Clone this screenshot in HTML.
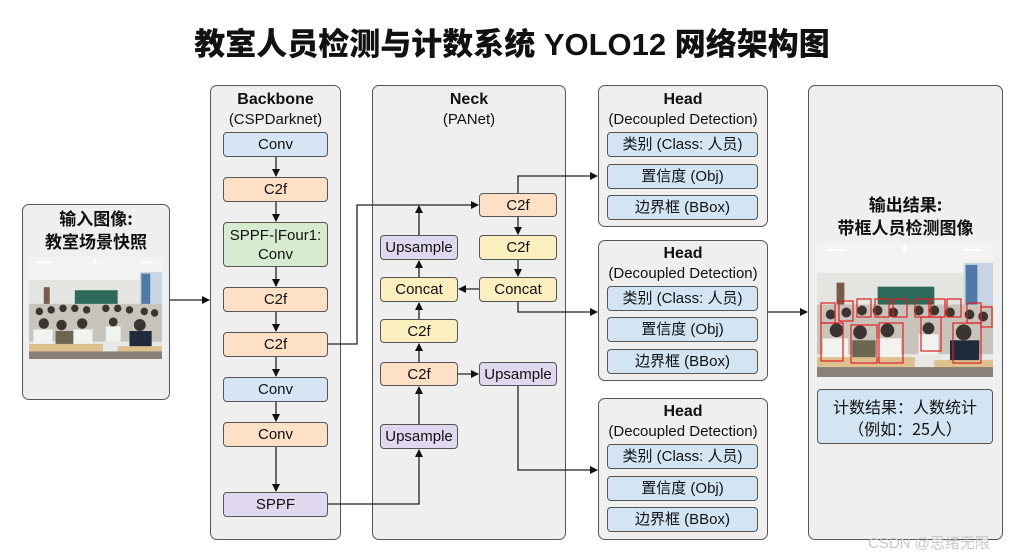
<!DOCTYPE html>
<html><head><meta charset="utf-8">
<style>
*{margin:0;padding:0;box-sizing:border-box}
body{width:1024px;height:559px;background:#fff;position:relative;overflow:hidden;font-family:"Liberation Sans","Noto Sans CJK SC",sans-serif;color:#111}
.a{position:absolute}
.panel{position:absolute;background:#efefef;border:1.5px solid #555;border-radius:7px}
.b{position:absolute;border:1.3px solid #555;border-radius:4px;display:flex;align-items:center;justify-content:center;font-size:15px;text-align:center;line-height:19px}
.blue{background:#d5e5f4}.or{background:#fde0c6}.gr{background:#d6ebcf}.pu{background:#e0d8ee}.ye{background:#fcefbf}
.hb{background:#d3e4f3;font-size:15px}
.t{position:absolute;text-align:center;font-size:15px;line-height:19px}
.bold{font-weight:bold;font-size:16px}
.cj{font-weight:bold;font-size:17px;font-family:"Noto Sans CJK SC",sans-serif;line-height:23px}
</style></head><body>
<div class="a" style="left:0;top:19px;width:1024px;text-align:center;font-size:31px;font-weight:900;font-family:'Liberation Sans','Noto Sans CJK SC',sans-serif">教室人员检测与计数系统 YOLO12 网络架构图</div>

<svg width="0" height="0" style="position:absolute">
<defs>
<symbol id="photo" viewBox="0 0 180 135" preserveAspectRatio="none">
<rect width="180" height="135" fill="#e8e8e6"/>
<rect width="180" height="30" fill="#f3f3f1"/>
<rect x="0" y="30" width="180" height="60" fill="#e4e4e0"/>
<rect x="62" y="44" width="58" height="22" fill="#2d6a5a"/>
<rect x="150" y="20" width="30" height="70" fill="#c8d6e4"/>
<rect x="152" y="22" width="12" height="66" fill="#4f79a8"/>
<rect x="20" y="40" width="8" height="28" fill="#7a5a4a"/>
<rect x="10" y="6" width="20" height="2" fill="#fff"/><rect x="88" y="2" width="3" height="8" fill="#fff"/><rect x="150" y="6" width="18" height="2" fill="#fff"/>
<rect x="0" y="62" width="180" height="50" fill="#c8c4bc"/>
<g fill="#3a3530">
<circle cx="14" cy="72" r="5"/><circle cx="30" cy="70" r="5"/><circle cx="46" cy="68" r="5"/><circle cx="62" cy="68" r="5"/><circle cx="78" cy="70" r="5"/><circle cx="104" cy="68" r="5"/><circle cx="120" cy="68" r="5"/><circle cx="136" cy="70" r="5"/><circle cx="156" cy="72" r="5"/><circle cx="170" cy="74" r="5"/>
<circle cx="20" cy="88" r="7"/><circle cx="44" cy="90" r="7"/><circle cx="72" cy="88" r="7"/><circle cx="114" cy="86" r="6"/><circle cx="150" cy="90" r="8"/>
</g>
<g fill="#f2f2f0"><rect x="6" y="96" width="26" height="22"/><rect x="60" y="96" width="26" height="22"/><rect x="104" y="92" width="20" height="20"/></g>
<g fill="#6b6650"><rect x="36" y="98" width="24" height="20"/></g>
<g fill="#1f2a3a"><rect x="136" y="98" width="30" height="24"/></g>
<rect x="0" y="115" width="100" height="10" fill="#dcc08e"/>
<rect x="120" y="118" width="60" height="10" fill="#dcc08e"/>
<rect x="0" y="125" width="180" height="10" fill="#8a8078"/>
</symbol>
</defs>
</svg>

<!-- input -->
<div class="panel" style="left:22px;top:204px;width:148px;height:196px"></div>
<div class="t cj" style="left:22px;top:206px;width:148px">输入图像:<br>教室场景快照</div>
<svg class="a" style="left:29px;top:257px" width="133" height="102"><use href="#photo" width="133" height="102"/></svg>

<!-- backbone -->
<div class="panel" style="left:210px;top:85px;width:131px;height:455px"></div>
<div class="t bold" style="left:210px;top:90px;width:131px">Backbone</div>
<div class="t" style="left:210px;top:110px;width:131px">(CSPDarknet)</div>
<div class="b blue" style="left:223px;top:132px;width:105px;height:25px">Conv</div>
<div class="b or" style="left:223px;top:177px;width:105px;height:25px">C2f</div>
<div class="b gr" style="left:223px;top:222px;width:105px;height:45px">SPPF-|Four1:<br>Conv</div>
<div class="b or" style="left:223px;top:287px;width:105px;height:25px">C2f</div>
<div class="b or" style="left:223px;top:332px;width:105px;height:25px">C2f</div>
<div class="b blue" style="left:223px;top:377px;width:105px;height:25px">Conv</div>
<div class="b or" style="left:223px;top:422px;width:105px;height:25px">Conv</div>
<div class="b pu" style="left:223px;top:492px;width:105px;height:25px">SPPF</div>

<!-- neck -->
<div class="panel" style="left:372px;top:85px;width:194px;height:455px"></div>
<div class="t bold" style="left:372px;top:90px;width:194px">Neck</div>
<div class="t" style="left:372px;top:110px;width:194px">(PANet)</div>
<div class="b pu" style="left:380px;top:235px;width:78px;height:25px">Upsample</div>
<div class="b ye" style="left:380px;top:277px;width:78px;height:25px">Concat</div>
<div class="b ye" style="left:380px;top:319px;width:78px;height:24px">C2f</div>
<div class="b or" style="left:380px;top:362px;width:78px;height:24px">C2f</div>
<div class="b pu" style="left:380px;top:424px;width:78px;height:25px">Upsample</div>
<div class="b or" style="left:479px;top:193px;width:78px;height:24px">C2f</div>
<div class="b ye" style="left:479px;top:235px;width:78px;height:25px">C2f</div>
<div class="b ye" style="left:479px;top:277px;width:78px;height:25px">Concat</div>
<div class="b pu" style="left:479px;top:362px;width:78px;height:24px">Upsample</div>

<!-- heads -->
<div class="panel" style="left:598px;top:85px;width:170px;height:142px"></div>
<div class="t bold" style="left:598px;top:90px;width:170px">Head</div>
<div class="t" style="left:598px;top:110px;width:170px">(Decoupled Detection)</div>
<div class="b hb" style="left:607px;top:132px;width:151px;height:25px">类别 (Class: 人员)</div>
<div class="b hb" style="left:607px;top:164px;width:151px;height:25px">置信度 (Obj)</div>
<div class="b hb" style="left:607px;top:195px;width:151px;height:25px">边界框 (BBox)</div>

<div class="panel" style="left:598px;top:240px;width:170px;height:141px"></div>
<div class="t bold" style="left:598px;top:244px;width:170px">Head</div>
<div class="t" style="left:598px;top:264px;width:170px">(Decoupled Detection)</div>
<div class="b hb" style="left:607px;top:286px;width:151px;height:25px">类别 (Class: 人员)</div>
<div class="b hb" style="left:607px;top:317px;width:151px;height:25px">置信度 (Obj)</div>
<div class="b hb" style="left:607px;top:349px;width:151px;height:25px">边界框 (BBox)</div>

<div class="panel" style="left:598px;top:398px;width:170px;height:142px"></div>
<div class="t bold" style="left:598px;top:402px;width:170px">Head</div>
<div class="t" style="left:598px;top:422px;width:170px">(Decoupled Detection)</div>
<div class="b hb" style="left:607px;top:444px;width:151px;height:25px">类别 (Class: 人员)</div>
<div class="b hb" style="left:607px;top:476px;width:151px;height:25px">置信度 (Obj)</div>
<div class="b hb" style="left:607px;top:507px;width:151px;height:25px">边界框 (BBox)</div>

<!-- output -->
<div class="panel" style="left:808px;top:85px;width:195px;height:455px"></div>
<div class="t cj" style="left:808px;top:192px;width:195px">输出结果:<br>带框人员检测图像</div>
<svg class="a" style="left:817px;top:243px" width="176" height="134"><use href="#photo" width="176" height="134"/>
<g fill="none" stroke="#e02020" stroke-width="1.2">
<rect x="4" y="60" width="14" height="20"/><rect x="22" y="58" width="14" height="20"/><rect x="40" y="56" width="14" height="18"/><rect x="58" y="56" width="14" height="18"/><rect x="76" y="56" width="14" height="18"/><rect x="98" y="56" width="14" height="18"/><rect x="114" y="56" width="14" height="18"/><rect x="130" y="56" width="14" height="18"/><rect x="150" y="60" width="14" height="20"/><rect x="164" y="64" width="11" height="20"/>
<rect x="4" y="80" width="22" height="38"/><rect x="34" y="82" width="26" height="38"/><rect x="62" y="80" width="24" height="40"/><rect x="104" y="74" width="20" height="34"/><rect x="136" y="80" width="28" height="40"/>
</g></svg>
<div class="b hb" style="left:817px;top:389px;width:176px;height:55px;font-family:'Noto Sans CJK SC',sans-serif;font-size:16px;line-height:22px">计数结果：人数统计<br>（例如：25人）</div>

<div class="a" style="left:868px;top:532px;font-size:15px;color:#c8c8c8">CSDN @思绪无限</div>

<svg class="a" style="left:0;top:0" width="1024" height="559">
<defs><marker id="ar" markerWidth="8" markerHeight="8" refX="7" refY="4" orient="auto" markerUnits="userSpaceOnUse"><path d="M0,0 L8,4 L0,8 z" fill="#111"/></marker></defs>
<g stroke="#222" stroke-width="1.3" fill="none" marker-end="url(#ar)">
<line x1="170" y1="300" x2="209" y2="300"/>
<line x1="276" y1="157" x2="276" y2="176"/>
<line x1="276" y1="202" x2="276" y2="221"/>
<line x1="276" y1="267" x2="276" y2="286"/>
<line x1="276" y1="312" x2="276" y2="331"/>
<line x1="276" y1="357" x2="276" y2="376"/>
<line x1="276" y1="402" x2="276" y2="421"/>
<line x1="276" y1="447" x2="276" y2="491"/>
<polyline points="328,344 357,344 357,205 478,205"/>
<line x1="419" y1="235" x2="419" y2="206"/>
<polyline points="328,504 419,504 419,450"/>
<line x1="419" y1="424" x2="419" y2="387"/>
<line x1="419" y1="362" x2="419" y2="344"/>
<line x1="419" y1="319" x2="419" y2="303"/>
<line x1="419" y1="277" x2="419" y2="261"/>
<line x1="479" y1="289" x2="459" y2="289"/>
<line x1="518" y1="217" x2="518" y2="234"/>
<line x1="518" y1="260" x2="518" y2="276"/>
<line x1="458" y1="374" x2="478" y2="374"/>
<polyline points="518,193 518,176 597,176"/>
<polyline points="518,302 518,312 597,312"/>
<polyline points="518,386 518,470 597,470"/>
<line x1="768" y1="312" x2="807" y2="312"/>
</g>
</svg>
</body></html>
